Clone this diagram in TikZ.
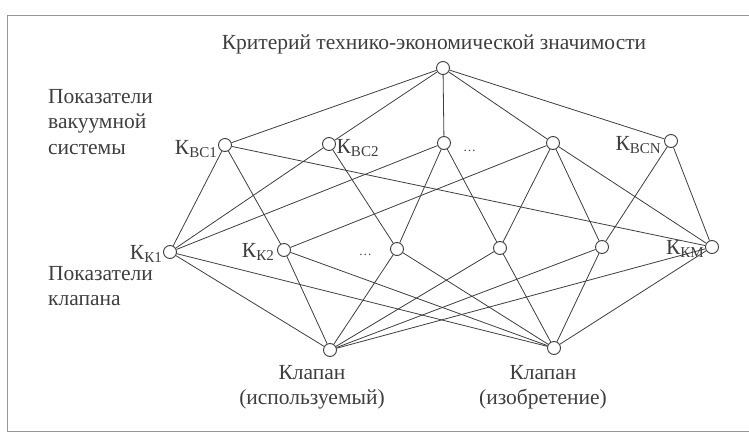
\documentclass[tikz,border=0pt]{standalone}
\usepackage{fontspec}
\setmainfont{Liberation Serif}
\usepackage{tikz}
\usetikzlibrary{positioning}
\definecolor{ink}{RGB}{62,62,62}
\definecolor{framegrey}{RGB}{150,150,150}
\newcommand{\kidx}[1]{К\textsubscript{#1}}
\tikzset{
  vert/.style={draw=ink,circle,fill=white,minimum size=13pt,inner sep=0pt,line width=0.9pt},
  edge/.style={draw=ink,line width=0.8pt},
  lbl/.style={text=ink,inner sep=1pt,align=left},
  klbl/.style={lbl,inner sep=0.5pt},
  dots/.style={text=ink,inner sep=0pt,font=\fontsize{13}{13}\selectfont},
}

\begin{document}
\begin{tikzpicture}[x=1pt,y=-1pt,font=\fontsize{21.5}{25.5}\selectfont]
  \useasboundingbox (0,0) rectangle (749,436);
  \draw[framegrey,line width=0.8pt] (749,15) -- (7,15) -- (7,431) -- (749,431);

  % ---------------- vertices ----------------
  \node[vert] (top) at (443,68) {};
  \foreach \i/\x/\y in {1/225/145,2/329/144,3/444/143,4/553/143,5/671/141}
    \node[vert] (u\i) at (\x,\y) {};
  \foreach \i/\x/\y in {1/170/252,2/284/250,3/397/249,4/500/248,5/602/247,6/712/247}
    \node[vert] (l\i) at (\x,\y) {};
  \node[vert] (b1) at (330,350) {};
  \node[vert] (b2) at (554,348) {};

  % ---------------- edges ----------------
  \foreach \i in {1,...,5}
    \draw[edge] (top) -- (u\i);
  \foreach \u/\l in {1/1,1/2,1/6,2/1,2/3,3/1,3/3,3/4,4/2,4/4,4/5,4/6,5/5,5/6}
    \draw[edge] (u\u) -- (l\l);
  \foreach \i in {1,...,6} {
    \draw[edge] (l\i) -- (b1);
    \draw[edge] (l\i) -- (b2);
  }

  % ---------------- labels ----------------
  \node[lbl] (title) at (434,44) {Критерий технико-экономической значимости};
  \node[lbl,anchor=north west] (vsys) at (47,88) {Показатели\\вакуумной\\системы};
  \node[lbl,anchor=north west] (valve) at (47,265) {Показатели\\клапана};

  \node[klbl,left=0pt of u1,yshift=-4pt] (ku1) {\kidx{ВС1}};
  \node[klbl,right=0pt of u2,yshift=-4pt] (ku2) {\kidx{ВС2}};
  \node[dots,right=12pt of u3,yshift=-8pt] (ku3) {\ldots};
  \node[klbl,left=2pt of u5,yshift=-4pt] (ku5) {\kidx{ВСN}};

  \node[klbl,left=0pt of l1,yshift=-2pt] (kl1) {\kidx{К1}};
  \node[klbl,left=2pt of l2,yshift=-2pt] (kl2) {\kidx{К2}};
  \node[dots,left=18pt of l3,yshift=-6pt] (kl3) {\ldots};
  \node[klbl,left=0pt of l6,yshift=-2pt] (kl6) {\kidx{КМ}};

  \node[lbl,align=center,anchor=north] (nb1) at (312,364) {Клапан\\(используемый)};
  \node[lbl,align=center,anchor=north] (nb2) at (543,364) {Клапан\\(изобретение)};
\end{tikzpicture}
\end{document}
